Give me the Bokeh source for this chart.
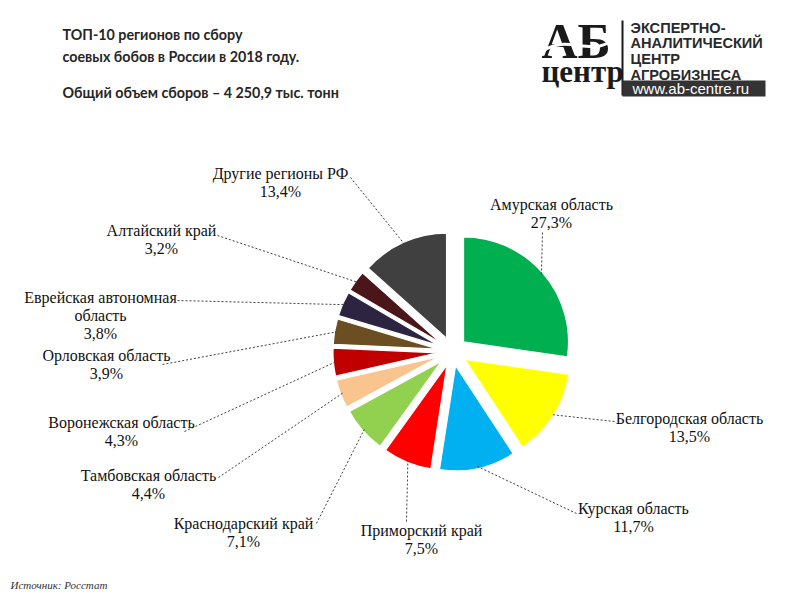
import math
from bokeh.plotting import figure
from bokeh.models import Range1d
from bokeh.embed import file_html
from bokeh.resources import INLINE
from bokeh.core.properties import value

# ---------------- data ----------------
regions = ["Амурская область", "Белгородская область", "Курская область",
           "Приморский край", "Краснодарский край", "Тамбовская область",
           "Воронежская область", "Орловская область",
           "Еврейская автономная\nобласть", "Алтайский край", "Другие регионы РФ"]
shares = [27.3, 13.5, 11.7, 7.5, 7.1, 4.4, 4.3, 3.9, 3.8, 3.2, 13.4]
colors = ["#00B050", "#FFFF00", "#00B0F0", "#FF0000", "#92D050", "#FAC48F",
          "#C00000", "#6B4F22", "#2D2442", "#4B1619", "#404040"]

title_lines = ["ТОП-10 регионов по сбору", "соевых бобов в России в 2018 году."]
subtitle = "Общий объем сборов – 4 250,9 тыс. тонн"
source = "Источник:  Росстат"
logo_lines = ["ЭКСПЕРТНО-", "АНАЛИТИЧЕСКИЙ", "ЦЕНТР", "АГРОБИЗНЕСА"]

# ---------------- layout (image coordinates, y down) ----------------
W, H = 800, 600
CX, CY = 452, 351      # pie centre
R = 105                # pie radius (px)
EXPLODE = 14.6         # explosion offset (px)
LINE_H = 18
SERIF = value("Liberation Serif")
# label: centre x, y of first line, leader attach point (x, y)
label_pos = [
    (551, 204, 542, 232),
    (689, 418, 614, 421),
    (633, 508, 576, 513),
    (421, 530, 406, 521),
    (243, 523, 316, 523),
    (148, 475, 218, 477),
    (121, 422, 184, 431),
    (106, 355, 162, 364),
    (100, 297, 177, 300),
    (161, 230, 217, 235),
    (280, 173, 350, 177),
]


def Y(v):
    return H - v


p = figure(width=W, height=H, x_range=Range1d(0, W), y_range=Range1d(0, H),
           output_backend="svg", toolbar_location=None, min_border=0)
p.axis.visible = False
p.grid.visible = False
p.outline_line_color = None
p.background_fill_color = "white"
p.border_fill_color = "white"

total = sum(shares)
cum = 0.0
xs, ys, starts, ends, tips = [], [], [], [], []
for s in shares:
    a = cum / total
    b = (cum + s) / total
    cum += s
    mid = math.pi / 2 - 2 * math.pi * (a + b) / 2
    cx = CX + EXPLODE * math.cos(mid)
    cy = Y(CY) + EXPLODE * math.sin(mid)
    xs.append(cx)
    ys.append(cy)
    starts.append(math.pi / 2 - 2 * math.pi * b)
    ends.append(math.pi / 2 - 2 * math.pi * a)
    tips.append((cx + (R - 2) * math.cos(mid), cy + (R - 2) * math.sin(mid)))

p.wedge(x=xs, y=ys, radius=R, radius_units="screen", start_angle=starts,
        end_angle=ends, direction="anticlock", fill_color=colors,
        line_color="white", line_width=1.2)

# leader lines
for (lx, ly, ax, ay), (tx, ty) in zip(label_pos, tips):
    p.line([ax, tx], [Y(ay), ty], line_color="#404040", line_width=1,
           line_dash="2 2")

# labels
for name, s, (lx, ly, ax, ay) in zip(regions, shares, label_pos):
    lines = name.split("\n") + [f"{s:.1f}".replace(".", ",") + "%"]
    for i, t in enumerate(lines):
        p.text(x=[lx], y=[Y(ly + i * LINE_H)], text=[t], text_align="center",
               text_baseline="middle", text_font=SERIF,
               text_font_size="16px", text_color="#111111")

# title
for i, t in enumerate(title_lines):
    p.text(x=[62], y=[Y(34 + i * 22)], text=[t], text_baseline="middle",
           text_font=value("Lato"), text_font_style="bold",
           text_font_size="14.3px", text_color="#262626")
p.text(x=[62], y=[Y(92)], text=[subtitle], text_baseline="middle",
       text_font=value("Lato"), text_font_style="bold",
       text_font_size="14.3px", text_color="#262626")

# logo
p.text(x=[541], y=[Y(40)], text=["АБ"], text_baseline="middle",
       text_font=SERIF, text_font_style="bold",
       text_font_size="50px", text_color="#1a1a1a")
p.bezier(x0=[543], y0=[Y(50)], x1=[612], y1=[Y(40)], cx0=[568], cy0=[Y(34)],
         cx1=[588], cy1=[Y(56)], line_color="white", line_width=3)
p.text(x=[541], y=[Y(71)], text=["центр"], text_baseline="middle",
       text_font=SERIF, text_font_style="bold",
       text_font_size="31px", text_color="#1a1a1a")
p.line([622, 622], [Y(20), Y(95)], line_color="#1a1a1a", line_width=2)
for i, t in enumerate(logo_lines):
    p.text(x=[630], y=[Y(27 + i * 15.7)], text=[t], text_baseline="middle",
           text_font=value("Liberation Sans"), text_font_style="bold",
           text_font_size="14.6px", text_color="#2a2a2a")
p.quad(left=[622], right=[765], top=[Y(80)], bottom=[Y(96)],
       fill_color="#333333", line_color=None)
p.text(x=[632], y=[Y(88)], text=["www.ab-centre.ru"], text_baseline="middle",
       text_font=value("Liberation Sans"), text_font_size="15px",
       text_color="white")

# source
p.text(x=[10], y=[Y(584)], text=[source], text_baseline="middle",
       text_font=SERIF, text_font_style="italic",
       text_font_size="11px", text_color="#333333")

open("out.html", "w").write(file_html(p, INLINE))
